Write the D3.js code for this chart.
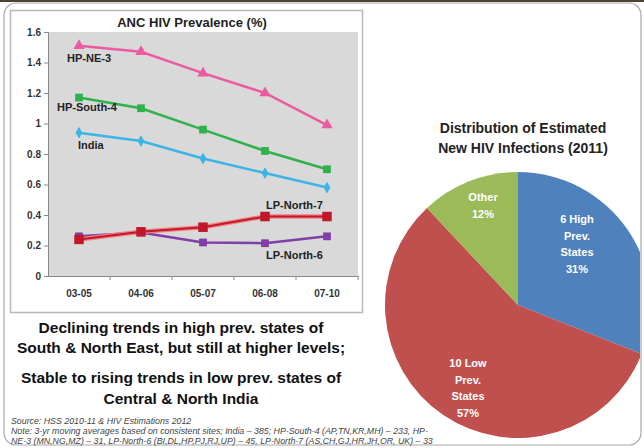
<!DOCTYPE html>
<html>
<head>
<meta charset="utf-8">
<script src="https://cdn.jsdelivr.net/npm/d3@7"></script>
<style>
  body { margin: 0; background: #fff; }
  svg { display: block; font-family: "Liberation Sans", Arial, sans-serif; }
</style>
</head>
<body>
<div id="chart"></div>
<script>
// ANC HIV prevalence (%) by 3-yr period
var periods = ["03-05", "04-06", "05-07", "06-08", "07-10"];
var hpNE3    = [1.51, 1.47, 1.33, 1.20, 0.99];
var hpSouth4 = [1.17, 1.10, 0.96, 0.82, 0.70];
var india    = [0.94, 0.885, 0.77, 0.675, 0.58];
var lpNorth7 = [0.24, 0.29, 0.32, 0.39, 0.39];
var lpNorth6 = [0.26, 0.285, 0.22, 0.215, 0.26];
var yTicks = [0, 0.2, 0.4, 0.6, 0.8, 1, 1.2, 1.4, 1.6];

// new infections 2011
var pieLabels = [["6 High", "Prev.", "States", "31%"], ["10 Low", "Prev.", "States", "57%"], ["Other", "12%"]];
var pieValues = [31, 57, 12];

var W = 644, H = 448;
var svg = d3.select("#chart").append("svg").attr("width", W).attr("height", H);

// slide frame
svg.append("rect").attr("x", 0).attr("y", 0).attr("width", W).attr("height", 2).attr("fill", "#4b4334");
svg.append("rect").attr("x", 4).attr("y", 3).attr("width", 637).attr("height", 442)
  .attr("rx", 12).attr("fill", "none").attr("stroke", "#a9a9a9").attr("stroke-width", 1.2);

// left chart box
svg.append("rect").attr("x", 10.5).attr("y", 10.5).attr("width", 352).attr("height", 302)
  .attr("fill", "#fff").attr("stroke", "#b8b8b8").attr("stroke-width", 1.5);

var x = d3.scaleBand().domain(periods).range([48, 358]);
var y = d3.scaleLinear().domain([0, 1.6]).range([276, 32]);

var plot = svg.append("g");
plot.append("rect").attr("x", 48).attr("y", 32).attr("width", 310).attr("height", 244).attr("fill", "#d9d9d9");

svg.append("text").attr("x", 192).attr("y", 27).attr("text-anchor", "middle")
  .attr("font-size", 13).attr("font-weight", "bold").attr("fill", "#222")
  .text("ANC HIV Prevalence (%)");

var yAxis = svg.append("g").attr("transform", "translate(48,0)")
  .call(d3.axisLeft(y).tickValues(yTicks).tickSize(4).tickFormat(d3.format("~g")));
var xAxis = svg.append("g").attr("transform", "translate(0,276)")
  .call(d3.axisBottom(x).tickSize(0).tickPadding(14));
xAxis.selectAll(".tick").append("line")
  .attr("x1", x.step() / 2).attr("x2", x.step() / 2).attr("y1", 0).attr("y2", 4).attr("stroke", "#888");
svg.selectAll(".domain").attr("stroke", "#888");
svg.selectAll(".tick line").attr("stroke", "#888");
svg.selectAll(".tick text").attr("font-family", "Liberation Sans, Arial, sans-serif")
  .attr("font-size", 10).attr("font-weight", "bold").attr("fill", "#333");

var cx = function (d, i) { return x(periods[i]) + x.bandwidth() / 2; };
var line = d3.line().x(function (d, i) { return cx(d, i); }).y(function (d) { return y(d); });

var series = [
  { vals: lpNorth6, color: "#7f3fa6", sym: d3.symbolSquare, size: 60 },
  { vals: lpNorth7, color: "#c0182a", sym: d3.symbolSquare, size: 90, glow: "#f08080" },
  { vals: india, color: "#3cb4e6", sym: d3.symbolDiamond, size: 40 },
  { vals: hpSouth4, color: "#2fb24c", sym: d3.symbolSquare, size: 60 },
  { vals: hpNE3, color: "#ec5aa3", sym: d3.symbolTriangle, size: 55 }
];

series.forEach(function (s) {
  if (s.glow) {
    plot.append("path").datum(s.vals).attr("d", line)
      .attr("fill", "none").attr("stroke", s.glow).attr("stroke-width", 4.5);
  }
  plot.append("path").datum(s.vals).attr("d", line)
    .attr("fill", "none").attr("stroke", s.color).attr("stroke-width", s.glow ? 2 : 2.5);
  plot.selectAll(null).data(s.vals).enter().append("path")
    .attr("d", d3.symbol().type(s.sym).size(s.size))
    .attr("transform", function (d, i) { return "translate(" + cx(d, i) + "," + y(d) + ")"; })
    .attr("fill", s.color);
});

var seriesLabels = [
  { t: "HP-NE-3", x: 67, y: 62 },
  { t: "HP-South-4", x: 57, y: 111 },
  { t: "India", x: 78, y: 149 },
  { t: "LP-North-7", x: 266, y: 209 },
  { t: "LP-North-6", x: 266, y: 259 }
];
svg.selectAll(null).data(seriesLabels).enter().append("text")
  .attr("x", function (d) { return d.x; }).attr("y", function (d) { return d.y; })
  .attr("font-size", 11).attr("font-weight", "bold").attr("fill", "#222")
  .text(function (d) { return d.t; });

// commentary
var notes = [
  { t: "Declining trends in high prev. states of", y: 333 },
  { t: "South & North East, but still at higher levels;", y: 353 },
  { t: "Stable to rising trends in low prev. states of", y: 383 },
  { t: "Central & North India", y: 404 }
];
svg.selectAll(null).data(notes).enter().append("text")
  .attr("x", 181).attr("y", function (d) { return d.y; }).attr("text-anchor", "middle")
  .attr("font-size", 15.5).attr("font-weight", "bold").attr("fill", "#111")
  .text(function (d) { return d.t; });

var foot = [
  "Source: HSS 2010-11 & HIV Estimations 2012",
  "Note: 3-yr moving averages based on consistent sites; India \u2013 385; HP-South-4 (AP,TN,KR,MH) \u2013 233, HP-",
  "NE-3 (MN,NG,MZ) \u2013 31, LP-North-6 (BI,DL,HP,PJ,RJ,UP) \u2013 45, LP-North-7 (AS,CH,GJ,HR,JH,OR, UK) \u2013 33"
];
svg.selectAll(null).data(foot).enter().append("text")
  .attr("x", 11).attr("y", function (d, i) { return 424 + i * 10; })
  .attr("font-size", 8.8).attr("font-style", "italic").attr("fill", "#444")
  .text(function (d) { return d; });

// pie
svg.append("text").attr("x", 523).attr("y", 133).attr("text-anchor", "middle")
  .attr("font-size", 14).attr("font-weight", "bold").attr("fill", "#222").text("Distribution of Estimated");
svg.append("text").attr("x", 523).attr("y", 153).attr("text-anchor", "middle")
  .attr("font-size", 14).attr("font-weight", "bold").attr("fill", "#222").text("New HIV Infections (2011)");

var pieColors = ["#4f81bd", "#c0504d", "#9bbb59"];
var pie = d3.pie().sort(null).value(function (d) { return d; });
var arcs = pie(pieValues);
var R = 133;
var arc = d3.arc().innerRadius(0).outerRadius(R);

var clip = svg.append("clipPath").attr("id", "frameclip");
clip.append("rect").attr("x", 4).attr("y", 3).attr("width", 636).attr("height", 442).attr("rx", 12);

var pg = svg.append("g").attr("clip-path", "url(#frameclip)")
  .append("g").attr("transform", "translate(518,305)");
pg.selectAll("path").data(arcs).enter().append("path")
  .attr("d", arc).attr("fill", function (d, i) { return pieColors[i]; });

var labelPos = [[59, -82], [-50, 62], [-35, -104]];
pg.selectAll("g.lab").data(arcs).enter().append("g").attr("class", "lab")
  .each(function (d, i) {
    var lines = pieLabels[i];
    d3.select(this).selectAll("text").data(lines).enter().append("text")
      .attr("x", labelPos[i][0])
      .attr("y", function (t, j) { return labelPos[i][1] + j * 16.5; })
      .attr("text-anchor", "middle").attr("font-size", 11).attr("font-weight", "bold")
      .attr("fill", "#fff").text(function (t) { return t; });
  });
</script>
</body>
</html>
